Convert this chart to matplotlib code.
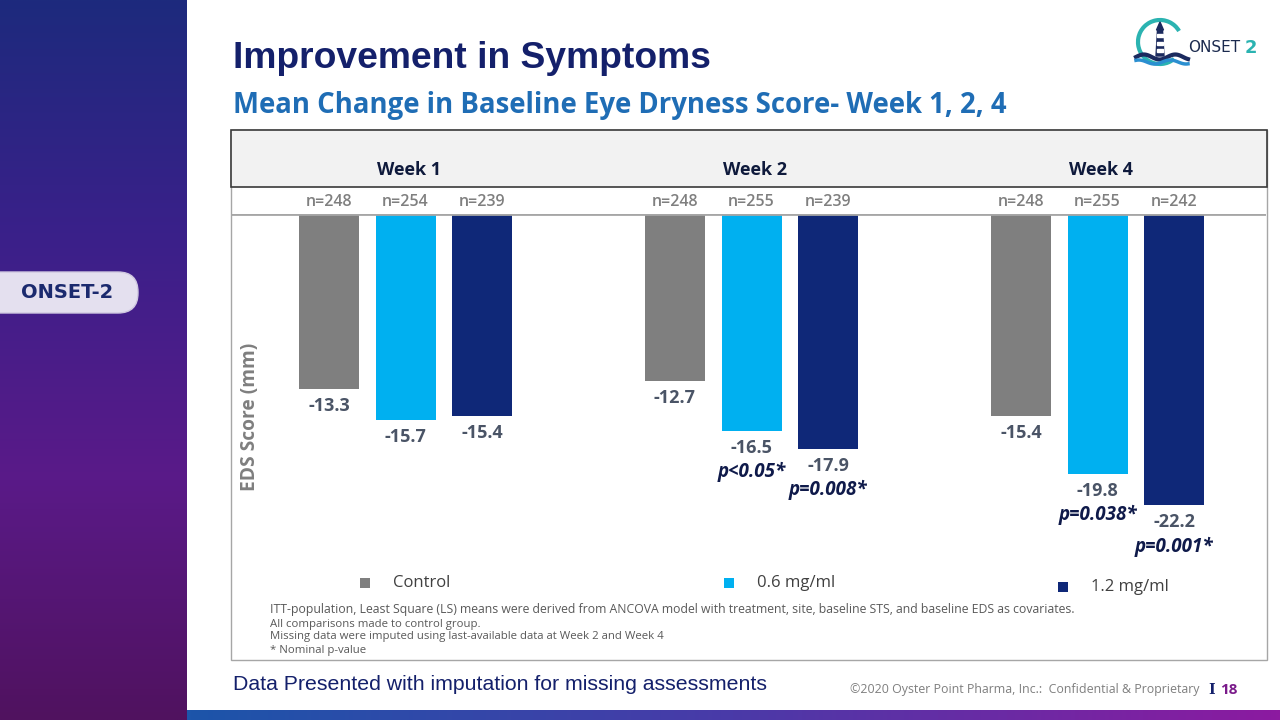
import numpy as np
import matplotlib
matplotlib.use("Agg")
import matplotlib.pyplot as plt
from matplotlib.patches import Rectangle, FancyBboxPatch, Arc, Polygon
from matplotlib.colors import LinearSegmentedColormap
from matplotlib.transforms import blended_transform_factory

# data
weeks = ["Week 1", "Week 2", "Week 4"]
groups = ["Control", "0.6 mg/ml", "1.2 mg/ml"]
colors = ["#7f7f7f", "#00b0f0", "#0f2878"]
control = [-13.3, -12.7, -15.4]
dose_06 = [-15.7, -16.5, -19.8]
dose_12 = [-15.4, -17.9, -22.2]
n_control = ["n=248", "n=248", "n=248"]
n_06 = ["n=254", "n=255", "n=255"]
n_12 = ["n=239", "n=239", "n=242"]
p_06 = ["", "p<0.05*", "p=0.038*"]
p_12 = ["", "p=0.008*", "p=0.001*"]
notes = ["ITT-population, Least Square (LS) means were derived from ANCOVA model with treatment, site, baseline STS, and baseline EDS as covariates.",
         "All comparisons made to control group.",
         "Missing data were imputed using last-available data at Week 2 and Week 4",
         "* Nominal p-value"]

W, H = 1280, 720
fig = plt.figure(figsize=(12.8, 7.2), dpi=100)
fig.patch.set_facecolor("white")


def fx(px):
    return px / W


def fy(py):
    return 1 - py / H


# background axes in pixel units (y down) for the slide decorations
bg = fig.add_axes([0, 0, 1, 1], zorder=-1)
bg.set_xlim(0, W)
bg.set_ylim(H, 0)
bg.axis("off")

# left sidebar gradient
cm_side = LinearSegmentedColormap.from_list("side", ["#1d2a7d", "#3b208a", "#5a1a88", "#50125f"])
bg.imshow(np.linspace(0, 1, 256).reshape(-1, 1), aspect="auto", cmap=cm_side,
          extent=[0, 187, H, 0], origin="upper")
# bottom strip gradient
cm_bot = LinearSegmentedColormap.from_list("bot", ["#1c55aa", "#4a3aa8", "#8c1aa0"])
bg.imshow(np.linspace(0, 1, 256).reshape(1, -1), aspect="auto", cmap=cm_bot,
          extent=[187, W, H, 710])
bg.set_xlim(0, W)
bg.set_ylim(H, 0)

# ONSET-2 pill
bg.add_patch(FancyBboxPatch((-40, 272), 178, 41, boxstyle="round,pad=0,rounding_size=20",
                            facecolor="#e4e0ef", edgecolor="#cfc8e0", lw=1))
bg.text(67, 293, "ONSET-2", ha="center", va="center", fontsize=14,
        fontweight="bold", color="#1b2a6e", family="DejaVu Sans")

# chart frame and header band
bg.add_patch(Rectangle((231, 130), 1036, 530, facecolor="none", edgecolor="#a6a6a6", lw=1))
bg.add_patch(Rectangle((231, 130), 1036, 57, facecolor="#f2f2f2", edgecolor="#3a3a3a", lw=1.2))

# logo
bg.add_patch(Arc((1160, 42), 44, 44, theta1=50, theta2=330, color="#2bb3b1", lw=3))
bg.add_patch(Polygon([[1156, 56], [1164, 56], [1162.5, 30], [1157.5, 30]], closed=True,
                     color="#1b2a5e"))
bg.add_patch(Polygon([[1156.5, 30], [1163.5, 30], [1160, 22]], closed=True, color="#1b2a5e"))
for yy in (34, 42, 49):
    bg.add_patch(Rectangle((1157, yy), 6, 3, color="white"))
wx = np.linspace(1136, 1188, 60)
bg.plot(wx, 57 - 2.5 * np.sin((wx - 1136) / 5), color="#1b2a5e", lw=3)
bg.plot(wx, 62 - 2 * np.sin((wx - 1136) / 5 + 1), color="#2b8fd0", lw=2.5)
bg.text(1188, 48, "ONSET", ha="left", va="center", fontsize=11, color="#1b2a4e",
        family="DejaVu Sans")
bg.text(1245, 48, "2", ha="left", va="center", fontsize=13, fontweight="bold",
        color="#2bb3b1", family="DejaVu Sans")

# titles
fig.text(fx(233), fy(58), "Improvement in Symptoms", ha="left", va="center", fontsize=26.8,
         fontweight="bold", color="#14206b", family="Liberation Sans")
fig.text(fx(233), fy(105), "Mean Change in Baseline Eye Dryness Score- Week 1, 2, 4", ha="left",
         va="center", fontsize=19.8, fontweight="bold", color="#1f6db5", family="Open Sans")

# bar chart
ppu = 13.13
ax = fig.add_axes([fx(232), fy(600), fx(1266) - fx(232), (600 - 214) / H])
ax.patch.set_alpha(0)
spacing = 346.0
bw = 60 / spacing
off = 76.5 / spacing
x = np.arange(len(weeks))
ax.set_xlim((232 - 405.5) / spacing, (1266 - 405.5) / spacing)
ax.set_ylim(-(600 - 214) / ppu, 0)
for s in ax.spines.values():
    s.set_visible(False)
ax.set_xticks([])
ax.set_yticks([])

series = [control, dose_06, dose_12]
ns = [n_control, n_06, n_12]
ps = [None, p_06, p_12]
for k in range(3):
    xs = x + (k - 1) * off
    ax.bar(xs, series[k], width=bw, color=colors[k], zorder=3)
    for i in range(3):
        ax.annotate(f"{series[k][i]:.1f}", (xs[i], series[k][i]), xytext=(0, -17),
                    textcoords="offset pixels", ha="center", va="center", fontsize=13,
                    fontweight="bold", color="#4a5466", family="Open Sans", annotation_clip=False)
        ax.annotate(ns[k][i], (xs[i], 0), xytext=(0, 12), textcoords="offset pixels",
                    ha="center", va="center", fontsize=11.5, fontweight="semibold",
                    color="#7f7f7f", family="Open Sans", annotation_clip=False)
        if ps[k] is not None and ps[k][i]:
            ax.annotate(ps[k][i], (xs[i], series[k][i]), xytext=(0, -41),
                        textcoords="offset pixels", ha="center", va="center", fontsize=13.5,
                        fontweight="bold", style="italic", color="#0f1a4a",
                        family="Open Sans", annotation_clip=False)
ax.axhline(0, color="#a6a6a6", lw=2, zorder=4)

tr = blended_transform_factory(ax.transData, fig.transFigure)
for i, w in enumerate(weeks):
    ax.text(x[i] + 0.01, fy(170), w, transform=tr, ha="center", va="center", fontsize=13,
            fontweight="bold", color="#0f1a3c", family="Open Sans")

fig.text(fx(250), fy(417), "EDS Score (mm)", rotation=90, ha="center", va="center",
         fontsize=13.8, fontweight="bold", color="#7f7f7f", family="Open Sans")

# legend
leg_x = [365, 729, 1063]
leg_y = [583, 583, 587]
for k in range(3):
    bg.add_patch(Rectangle((leg_x[k] - 5, leg_y[k] - 5), 10, 10, facecolor=colors[k],
                           edgecolor="none"))
    fig.text(fx(leg_x[k] + 28), fy(leg_y[k]), groups[k], ha="left", va="center", fontsize=12,
             color="#404040", family="Open Sans")

# footnotes
note_y = [610, 624, 637, 650]
note_fs = [8.85, 8.2, 8.2, 8.2]
for t, yy, fs in zip(notes, note_y, note_fs):
    fig.text(fx(270), fy(yy), t, ha="left", va="center", fontsize=fs, color="#595959",
             family="Open Sans")

# footer
fig.text(fx(233), fy(685), "Data Presented with imputation for missing assessments", ha="left",
         va="center", fontsize=15.3, color="#14206b", family="Liberation Sans")
fig.text(fx(1200), fy(690), "\u00a92020 Oyster Point Pharma, Inc.:  Confidential & Proprietary",
         ha="right", va="center", fontsize=8.9, color="#7f7f7f", family="Open Sans")
fig.text(fx(1208), fy(690), "I", ha="left", va="center", fontsize=10, fontweight="bold",
         color="#14206b", family="DejaVu Serif")
fig.text(fx(1220), fy(690), "18", ha="left", va="center", fontsize=11, fontweight="bold",
         color="#7a1a8a", family="Open Sans")

fig.savefig("out.png", dpi=100)
